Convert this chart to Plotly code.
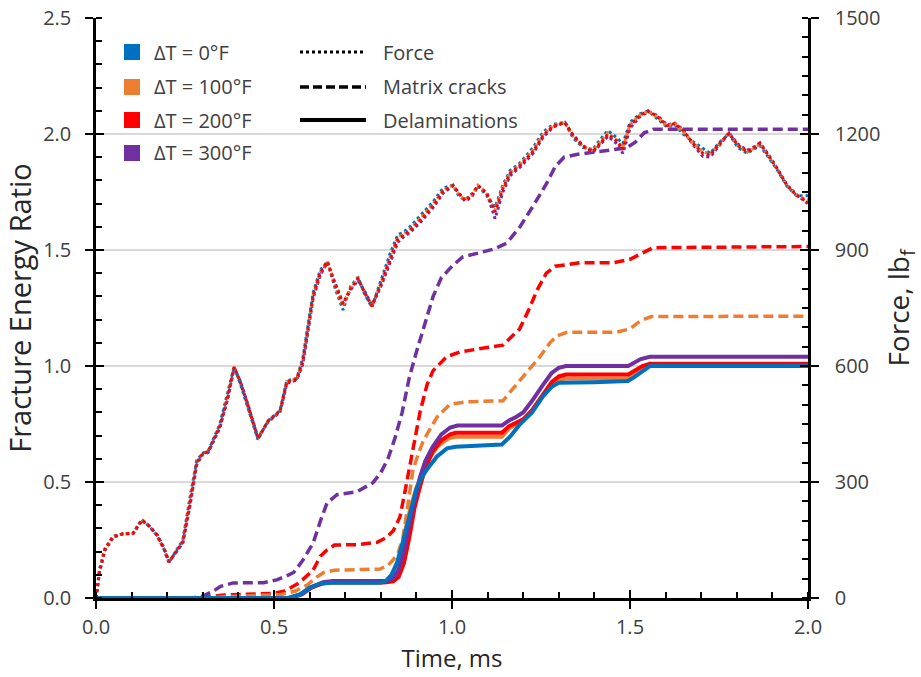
import plotly.graph_objects as go

# ---- series data -------------------------------------------------------
delta_t_labels = ["ΔT = 0°F", "ΔT = 100°F", "ΔT = 200°F", "ΔT = 300°F"]
series_colors = ["#0070C0", "#ED7D31", "#FF0000", "#7030A0"]
style_labels = ["Force", "Matrix cracks", "Delaminations"]

# Force history (lbf) vs time (ms)
t_force = [0.000, 0.010, 0.025, 0.048, 0.076, 0.104, 0.129, 0.150, 0.171, 0.190,
           0.205, 0.225, 0.244, 0.265, 0.283, 0.300, 0.315, 0.348, 0.370, 0.388,
           0.405, 0.424, 0.455, 0.483, 0.517, 0.536, 0.564, 0.581, 0.610, 0.630,
           0.650, 0.672, 0.694, 0.715, 0.736, 0.755, 0.775, 0.800, 0.826, 0.848,
           0.862, 0.882, 0.915, 0.947, 0.975, 1.003, 1.020, 1.037, 1.056, 1.073,
           1.098, 1.121, 1.143, 1.163, 1.191, 1.228, 1.256, 1.284, 1.317, 1.340,
           1.368, 1.396, 1.416, 1.438, 1.463, 1.480, 1.500, 1.528, 1.551, 1.576,
           1.604, 1.626, 1.649, 1.677, 1.705, 1.725, 1.753, 1.778, 1.803, 1.829,
           1.846, 1.865, 1.885, 1.913, 1.941, 1.969, 1.997, 2.000]

force_0 = [0, 75, 128, 160, 166, 167, 203, 185, 162, 128,
           92, 122, 150, 265, 356, 375, 380, 450, 530, 598,
           555, 500, 410, 458, 485, 562, 568, 620, 790, 848,
           870, 800, 745, 805, 830, 785, 752, 820, 890, 940,
           945, 960, 992, 1025, 1060, 1068, 1038, 1030, 1045, 1066,
           1040, 1010, 1068, 1105, 1125, 1165, 1205, 1225, 1230, 1190,
           1165, 1160, 1185, 1209, 1190, 1175, 1230, 1252, 1260, 1240,
           1218, 1224, 1200, 1180, 1163, 1150, 1180, 1200, 1165, 1150,
           1160, 1170, 1145, 1108, 1065, 1040, 1040, 1048]

force_100 = [0, 72, 126, 159, 166, 167, 202, 185, 163, 129,
             93, 121, 147, 256, 352, 374, 379, 446, 523, 597,
             558, 504, 412, 457, 484, 560, 567, 614, 785, 843,
             869, 806, 755, 802, 827, 788, 754, 814, 882, 933,
             940, 954, 985, 1019, 1054, 1068, 1043, 1029, 1042, 1067,
             1044, 1003, 1062, 1100, 1121, 1159, 1199, 1222, 1230, 1194,
             1167, 1157, 1179, 1203, 1184, 1165, 1225, 1249, 1259, 1244,
             1221, 1226, 1206, 1176, 1155, 1148, 1177, 1202, 1169, 1153,
             1162, 1174, 1148, 1110, 1066, 1041, 1030, 1030]

force_200 = [0, 70, 125, 158, 166, 167, 202, 185, 163, 130,
             93, 120, 145, 250, 350, 374, 378, 444, 520, 597,
             560, 506, 413, 457, 483, 558, 566, 610, 781, 840,
             869, 810, 760, 800, 825, 790, 755, 810, 877, 929,
             937, 950, 981, 1015, 1051, 1067, 1045, 1028, 1041, 1067,
             1046, 999, 1059, 1098, 1119, 1155, 1196, 1220, 1230, 1196,
             1168, 1155, 1176, 1199, 1181, 1160, 1222, 1248, 1259, 1246,
             1222, 1227, 1209, 1176, 1150, 1145, 1176, 1202, 1171, 1155,
             1163, 1176, 1150, 1111, 1067, 1041, 1025, 1022]

force_300 = [0, 68, 123, 157, 166, 167, 201, 186, 164, 132,
             94, 118, 142, 244, 345, 372, 376, 440, 515, 595,
             562, 509, 415, 455, 481, 555, 564, 605, 775, 835,
             868, 814, 763, 797, 822, 793, 757, 805, 870, 920,
             932, 945, 975, 1010, 1047, 1066, 1047, 1026, 1038, 1066,
             1047, 981, 1050, 1092, 1114, 1150, 1192, 1218, 1230, 1198,
             1170, 1153, 1172, 1194, 1175, 1150, 1215, 1245, 1258, 1248,
             1224, 1228, 1211, 1172, 1142, 1140, 1173, 1203, 1174, 1158,
             1165, 1177, 1152, 1112, 1068, 1042, 1022, 1018]

# Matrix-crack fracture energy ratio (no matrix cracking at dT = 0 F)
t_mc_100 = [0.000, 0.320, 0.360, 0.450, 0.520, 0.560, 0.593, 0.620, 0.640, 0.670,
            0.798, 0.820, 0.835, 0.850, 0.862, 0.876, 0.890, 0.905, 0.920, 0.958,
            0.994, 1.042, 1.143, 1.170, 1.210, 1.247, 1.275, 1.295, 1.323, 1.460,
            1.500, 1.530, 1.560, 2.000]
mc_100 = [0.000, 0.000, 0.005, 0.010, 0.015, 0.030, 0.056, 0.090, 0.110, 0.120,
          0.125, 0.140, 0.165, 0.200, 0.260, 0.400, 0.550, 0.620, 0.680, 0.780,
          0.835, 0.846, 0.850, 0.900, 0.970, 1.040, 1.100, 1.130, 1.145, 1.145,
          1.160, 1.195, 1.213, 1.215]

t_mc_200 = [0.000, 0.300, 0.330, 0.360, 0.420, 0.500, 0.530, 0.545, 0.565, 0.580,
            0.610, 0.630, 0.649, 0.670, 0.733, 0.790, 0.815, 0.835, 0.854, 0.868,
            0.882, 0.896, 0.910, 0.930, 0.947, 0.985, 1.022, 1.080, 1.143, 1.170,
            1.190, 1.215, 1.240, 1.265, 1.290, 1.360, 1.452, 1.500, 1.537, 1.565,
            2.000]
mc_200 = [0.000, 0.000, 0.008, 0.013, 0.016, 0.020, 0.030, 0.043, 0.060, 0.078,
          0.120, 0.180, 0.207, 0.228, 0.230, 0.240, 0.260, 0.290, 0.350, 0.460,
          0.580, 0.700, 0.800, 0.920, 0.980, 1.040, 1.060, 1.075, 1.090, 1.130,
          1.160, 1.240, 1.330, 1.400, 1.430, 1.445, 1.445, 1.460, 1.490, 1.510,
          1.515]

t_mc_300 = [0.000, 0.270, 0.300, 0.330, 0.350, 0.385, 0.470, 0.508, 0.535, 0.555,
            0.580, 0.610, 0.630, 0.649, 0.677, 0.733, 0.778, 0.800, 0.820, 0.840,
            0.860, 0.880, 0.900, 0.920, 0.947, 0.970, 1.000, 1.030, 1.080, 1.120,
            1.154, 1.191, 1.228, 1.267, 1.290, 1.315, 1.350, 1.435, 1.490, 1.515,
            1.540, 1.565, 2.000]
mc_300 = [0.000, 0.000, 0.008, 0.030, 0.050, 0.065, 0.066, 0.078, 0.095, 0.110,
          0.160, 0.237, 0.330, 0.410, 0.445, 0.458, 0.497, 0.540, 0.600, 0.690,
          0.800, 0.950, 1.060, 1.160, 1.300, 1.380, 1.430, 1.470, 1.490, 1.505,
          1.530, 1.600, 1.690, 1.790, 1.860, 1.900, 1.912, 1.930, 1.940, 1.965,
          2.005, 2.020, 2.020]

# Delamination fracture energy ratio
t_dl_0 = [0.000, 0.540, 0.573, 0.600, 0.630, 0.660, 0.800, 0.815, 0.830, 0.845,
          0.860, 0.873, 0.887, 0.900, 0.915, 0.930, 0.958, 0.986, 1.010, 1.070,
          1.140, 1.163, 1.190, 1.225, 1.256, 1.280, 1.300, 1.400, 1.494, 1.510,
          1.528, 1.556, 2.000]
dl_0 = [0.000, 0.000, 0.015, 0.045, 0.062, 0.066, 0.066, 0.075, 0.100, 0.150,
        0.230, 0.310, 0.400, 0.470, 0.520, 0.555, 0.610, 0.645, 0.652, 0.656,
        0.662, 0.695, 0.747, 0.800, 0.870, 0.910, 0.928, 0.930, 0.935, 0.950,
        0.970, 1.000, 1.000]

t_dl_100 = [0.000, 0.540, 0.572, 0.602, 0.632, 0.660, 0.808, 0.825, 0.840, 0.855,
            0.870, 0.885, 0.900, 0.915, 0.935, 0.960, 0.990, 1.010, 1.140, 1.160,
            1.180, 1.200, 1.225, 1.256, 1.280, 1.300, 1.320, 1.495, 1.515, 1.535,
            1.556, 2.000]
dl_100 = [0.000, 0.000, 0.015, 0.045, 0.062, 0.067, 0.067, 0.075, 0.110, 0.190,
          0.300, 0.400, 0.475, 0.535, 0.600, 0.655, 0.688, 0.695, 0.695, 0.730,
          0.750, 0.768, 0.805, 0.875, 0.920, 0.940, 0.946, 0.946, 0.970, 0.995,
          1.005, 1.005]

t_dl_200 = [0.000, 0.545, 0.575, 0.605, 0.635, 0.660, 0.815, 0.835, 0.850, 0.865,
            0.880, 0.895, 0.910, 0.925, 0.945, 0.970, 0.995, 1.010, 1.140, 1.160,
            1.180, 1.200, 1.225, 1.256, 1.280, 1.300, 1.320, 1.495, 1.515, 1.535,
            1.556, 2.000]
dl_200 = [0.000, 0.000, 0.015, 0.045, 0.062, 0.068, 0.068, 0.072, 0.090, 0.150,
          0.260, 0.390, 0.480, 0.560, 0.630, 0.680, 0.705, 0.712, 0.712, 0.740,
          0.755, 0.770, 0.810, 0.880, 0.930, 0.955, 0.963, 0.963, 0.980, 1.000,
          1.010, 1.010]

t_dl_300 = [0.000, 0.545, 0.578, 0.608, 0.638, 0.665, 0.815, 0.835, 0.850, 0.865,
            0.880, 0.895, 0.910, 0.925, 0.945, 0.970, 0.995, 1.015, 1.140, 1.160,
            1.180, 1.200, 1.225, 1.256, 1.280, 1.300, 1.320, 1.495, 1.510, 1.530,
            1.556, 2.000]
dl_300 = [0.000, 0.000, 0.015, 0.048, 0.068, 0.073, 0.073, 0.085, 0.120, 0.200,
          0.320, 0.430, 0.520, 0.590, 0.650, 0.705, 0.735, 0.743, 0.743, 0.765,
          0.780, 0.800, 0.850, 0.920, 0.970, 0.992, 1.000, 1.000, 1.015, 1.030,
          1.040, 1.040]

x_ticks = [0.0, 0.5, 1.0, 1.5, 2.0]
ratio_ticks = [0.0, 0.5, 1.0, 1.5, 2.0, 2.5]
force_ticks = [0, 300, 600, 900, 1200, 1500]

# ---- layout constants ---------------------------------------------------
W, H = 921, 677
ML, MR, MT, MB = 96, 113, 18, 79
PW, PH = W - ML - MR, H - MT - MB

FONT = "Open Sans"
TICK_COLOR = "#404040"
TITLE_COLOR = "#262626"
DOT = "3px,3px"
DASH = "10px,5px"


def px_x(px):
    return (px - ML) / PW


def px_y(py):
    return (H - MB - py) / PH


fig = go.Figure()

force_sets = [force_0, force_100, force_200, force_300]
mc_sets = {1: (t_mc_100, mc_100), 2: (t_mc_200, mc_200), 3: (t_mc_300, mc_300)}
dl_sets = [(t_dl_0, dl_0), (t_dl_100, dl_100), (t_dl_200, dl_200), (t_dl_300, dl_300)]

# force curves on the right axis
for i in [3, 0, 1, 2]:
    fig.add_trace(go.Scatter(
        x=t_force, y=force_sets[i], mode="lines", yaxis="y2",
        line=dict(color=series_colors[i], width=3, dash=DOT),
        name=delta_t_labels[i] + " " + style_labels[0], showlegend=False,
        hoverinfo="skip"))

# matrix crack curves
for i in [3, 2, 1]:
    tx, vy = mc_sets[i]
    fig.add_trace(go.Scatter(
        x=tx, y=vy, mode="lines",
        line=dict(color=series_colors[i], width=3.5, dash=DASH),
        name=delta_t_labels[i] + " " + style_labels[1], showlegend=False,
        hoverinfo="skip"))

# delamination curves
for i in [1, 2, 3, 0]:
    tx, vy = dl_sets[i]
    fig.add_trace(go.Scatter(
        x=tx, y=vy, mode="lines",
        line=dict(color=series_colors[i], width=4),
        name=delta_t_labels[i] + " " + style_labels[2], showlegend=False,
        hoverinfo="skip"))

# empty traces that carry the extra tick-only axes (inner half of the cross ticks)
fig.add_trace(go.Scatter(x=[None], y=[None], xaxis="x2", yaxis="y3",
                         showlegend=False, hoverinfo="skip"))
fig.add_trace(go.Scatter(x=[None], y=[None], xaxis="x", yaxis="y4",
                         showlegend=False, hoverinfo="skip"))

tickfont = dict(family=FONT, size=20, color=TICK_COLOR)
minor_common = dict(ticks="inside", ticklen=6, tickwidth=2, tickcolor="black", showgrid=False)

fig.update_layout(
    width=W, height=H,
    margin=dict(l=ML, r=MR, t=MT, b=MB, pad=0),
    paper_bgcolor="white", plot_bgcolor="white",
    showlegend=False,
    xaxis=dict(
        range=[0, 2], tickvals=x_ticks, tickformat=".1f",
        ticks="outside", ticklen=8, tickwidth=2, tickcolor="black",
        minor=dict(dtick=0.1, **minor_common),
        showline=True, linecolor="black", linewidth=2.5,
        showgrid=False, zeroline=False, tickfont=tickfont,
        ticklabelstandoff=1, automargin=False,
        title=dict(text="Time, ms", standoff=12,
                   font=dict(family=FONT, size=24, color=TITLE_COLOR)),
    ),
    yaxis=dict(
        range=[0, 2.5], tickvals=ratio_ticks, tickformat=".1f",
        ticks="outside", ticklen=8, tickwidth=2, tickcolor="black",
        minor=dict(dtick=0.1, **minor_common),
        showline=True, linecolor="black", linewidth=2.5,
        showgrid=True, gridcolor="#d9d9d9", gridwidth=2,
        zeroline=False, tickfont=tickfont, ticklabelstandoff=10, automargin=False,
        title=dict(text="Fracture Energy Ratio", standoff=9,
                   font=dict(family=FONT, size=29, color=TITLE_COLOR)),
    ),
    yaxis2=dict(
        overlaying="y", side="right", anchor="x",
        range=[0, 1500], tickvals=force_ticks,
        ticks="outside", ticklen=8, tickwidth=2, tickcolor="black",
        minor=dict(dtick=50, **minor_common),
        showline=True, linecolor="black", linewidth=2.5,
        showgrid=False, zeroline=False, tickfont=tickfont, ticklabelstandoff=12,
        automargin=False,
        title=dict(text="Force, lb<sub>f</sub>", standoff=11,
                   font=dict(family=FONT, size=28, color=TITLE_COLOR)),
    ),
    xaxis2=dict(
        overlaying="x", anchor="y", side="bottom", range=[0, 2], tickvals=x_ticks,
        ticks="inside", ticklen=8, tickwidth=2, tickcolor="black", automargin=False,
        showticklabels=False, showline=False, showgrid=False, zeroline=False,
    ),
    yaxis3=dict(
        overlaying="y", anchor="x", side="left", range=[0, 2.5], tickvals=ratio_ticks,
        ticks="inside", ticklen=8, tickwidth=2, tickcolor="black", automargin=False,
        showticklabels=False, showline=False, showgrid=False, zeroline=False,
    ),
    yaxis4=dict(
        overlaying="y", anchor="x", side="right", range=[0, 1500], tickvals=force_ticks,
        ticks="inside", ticklen=8, tickwidth=2, tickcolor="black", automargin=False,
        showticklabels=False, showline=False, showgrid=False, zeroline=False,
    ),
)

# ---- key: temperature swatches and line styles ---------------------------
row_y = [52, 87, 120, 153]
key_font = dict(family=FONT, size=20, color=TICK_COLOR)
shapes = []
annotations = []
for i, label in enumerate(delta_t_labels):
    yc = row_y[i]
    shapes.append(dict(type="rect", xref="paper", yref="paper",
                       x0=px_x(124), x1=px_x(140), y0=px_y(yc + 8), y1=px_y(yc - 8),
                       fillcolor=series_colors[i], line=dict(width=0)))
    annotations.append(dict(xref="paper", yref="paper", x=px_x(152), y=px_y(yc),
                            text=label, showarrow=False, xanchor="left", yanchor="middle",
                            font=key_font))

style_dash = ["3px,3px", "9px,4px", "solid"]
style_width = [3, 3.5, 4]
for j, label in enumerate(style_labels):
    yc = row_y[j]
    shapes.append(dict(type="line", xref="paper", yref="paper",
                       x0=px_x(300), x1=px_x(366), y0=px_y(yc), y1=px_y(yc),
                       line=dict(color="black", width=style_width[j], dash=style_dash[j])))
    annotations.append(dict(xref="paper", yref="paper", x=px_x(381), y=px_y(yc),
                            text=label, showarrow=False, xanchor="left", yanchor="middle",
                            font=key_font))

fig.update_layout(shapes=shapes, annotations=annotations)

fig.write_html("out.html")
